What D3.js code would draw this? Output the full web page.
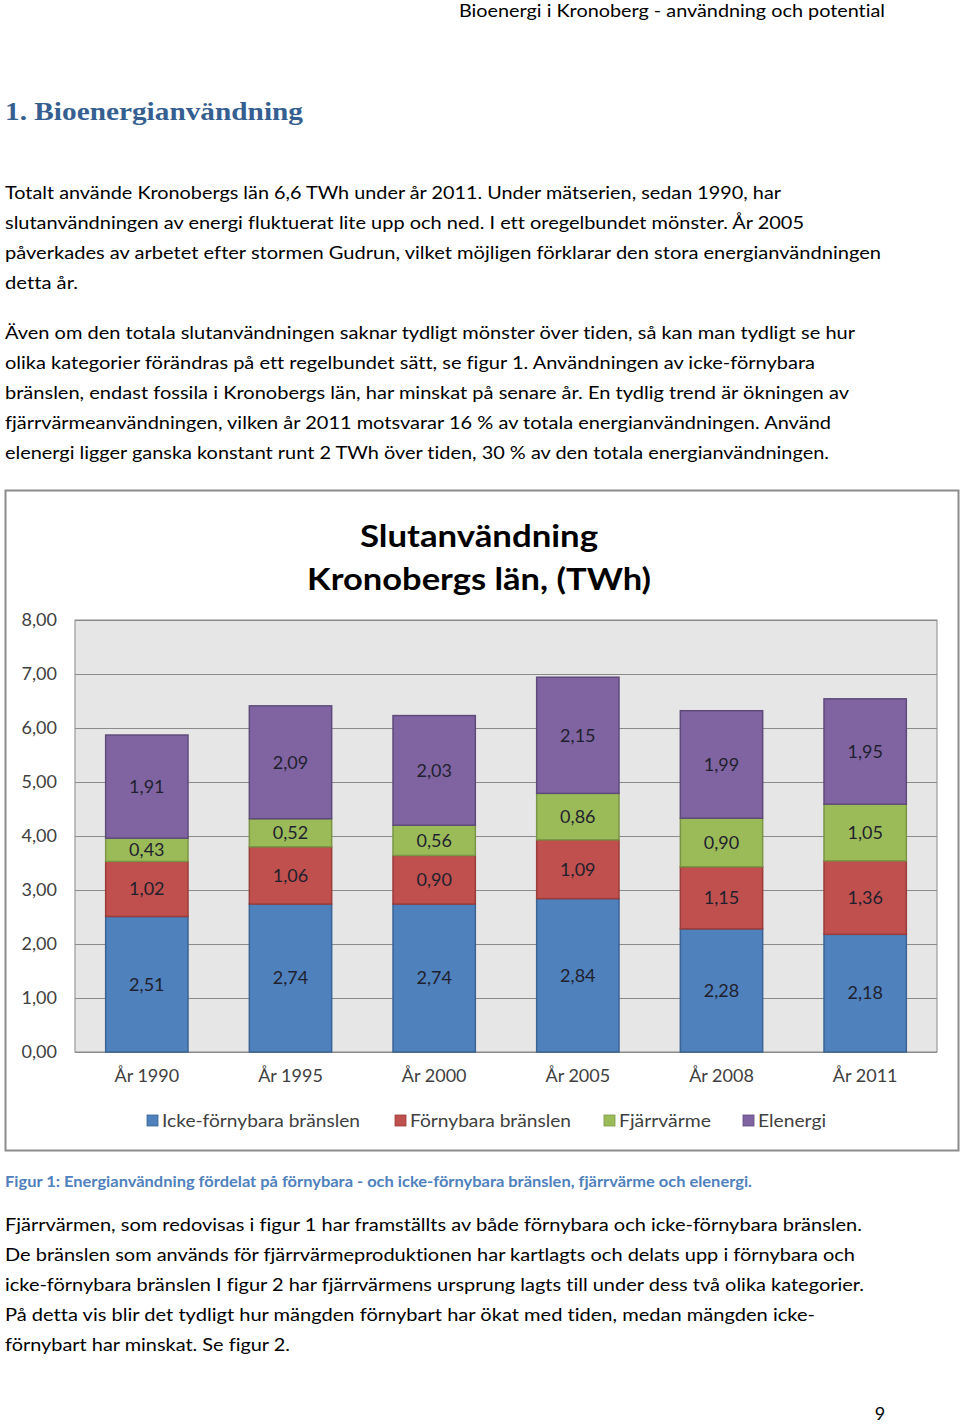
<!DOCTYPE html>
<html><head><meta charset="utf-8">
<script src="https://cdn.jsdelivr.net/npm/d3@7"></script>
<style>
html,body{margin:0;padding:0;background:#fff;}
svg{display:block;}
text{font-family:Lato,"Open Sans",sans-serif;font-variant-ligatures:none;font-feature-settings:"liga" 0;}
</style></head>
<body>
<script>
// ---- data ----
const categories = ["År 1990","År 1995","År 2000","År 2005","År 2008","År 2011"];
const seriesNames = ["Icke-förnybara bränslen","Förnybara bränslen","Fjärrvärme","Elenergi"];
const ickeFornybara = [2.51, 2.74, 2.74, 2.84, 2.28, 2.18];
const fornybara = [1.02, 1.06, 0.90, 1.09, 1.15, 1.36];
const fjarrvarme = [0.43, 0.52, 0.56, 0.86, 0.90, 1.05];
const elenergi = [1.91, 2.09, 2.03, 2.15, 1.99, 1.95];
const yTicks = [0,1,2,3,4,5,6,7,8];
const titleLines = ["Slutanvändning","Kronobergs län, (TWh)"];

const headerText = "Bioenergi i Kronoberg - användning och potential";
const headingText = "1. Bioenergianvändning";
const para1 = [
 "Totalt använde Kronobergs län 6,6 TWh under år 2011. Under mätserien, sedan 1990, har",
 "slutanvändningen av energi fluktuerat lite upp och ned. I ett oregelbundet mönster. År 2005",
 "påverkades av arbetet efter stormen Gudrun, vilket möjligen förklarar den stora energianvändningen",
 "detta år."];
const para2 = [
 "Även om den totala slutanvändningen saknar tydligt mönster över tiden, så kan man tydligt se hur",
 "olika kategorier förändras på ett regelbundet sätt, se figur 1. Användningen av icke-förnybara",
 "bränslen, endast fossila i Kronobergs län, har minskat på senare år. En tydlig trend är ökningen av",
 "fjärrvärmeanvändningen, vilken år 2011 motsvarar 16 % av totala energianvändningen. Använd",
 "elenergi ligger ganska konstant runt 2 TWh över tiden, 30 % av den totala energianvändningen."];
const captionText = "Figur 1: Energianvändning fördelat på förnybara - och icke-förnybara bränslen, fjärrvärme och elenergi.";
const para3 = [
 "Fjärrvärmen, som redovisas i figur 1 har framställts av både förnybara och icke-förnybara bränslen.",
 "De bränslen som används för fjärrvärmeproduktionen har kartlagts och delats upp i förnybara och",
 "icke-förnybara bränslen I figur 2 har fjärrvärmens ursprung lagts till under dess två olika kategorier.",
 "På detta vis blir det tydligt hur mängden förnybart har ökat med tiden, medan mängden icke-",
 "förnybart har minskat. Se figur 2."];
const pageNumber = "9";

// ---- drawing ----
const W = 960, H = 1426;
const svg = d3.select("body").append("svg").attr("width", W).attr("height", H);
svg.append("rect").attr("width", W).attr("height", H).attr("fill", "#fff");

function fitText(sel, target){
  sel.each(function(){
    const w = this.getComputedTextLength();
    if (Math.abs(w - target) > 2) {
      d3.select(this).attr("textLength", target).attr("lengthAdjust", "spacingAndGlyphs");
    }
  });
}

// header
svg.append("text").attr("x", 885).attr("y", 17).attr("text-anchor", "end")
  .attr("font-size", 17).attr("fill", "#000").text(headerText)
  .call(s => fitText(s, 426));

// heading
svg.append("text").attr("x", 5).attr("y", 120)
  .style("font-family", "'Liberation Serif','DejaVu Serif',serif")
  .attr("font-weight", "bold").attr("font-size", 26).attr("fill", "#365F91")
  .text(headingText).call(s => fitText(s, 298));

function paragraph(lines, y0, widths){
  lines.forEach((ln, i) => {
    const t = svg.append("text").attr("x", 5).attr("y", y0 + i*30).attr("dy", "0.35em")
      .attr("font-size", 18).attr("fill", "#000").text(ln);
    fitText(t, widths[i]);
  });
}
paragraph(para1, 193, [776, 799, 876, 73]);
paragraph(para2, 333, [850, 810, 844, 826, 824]);

// chart frame
svg.append("rect").attr("x", 5.5).attr("y", 490.5).attr("width", 953).attr("height", 660)
  .attr("fill", "#fff").attr("stroke", "#8c8c8c").attr("stroke-width", 2);

// title
titleLines.forEach((t, i) => {
  svg.append("text").attr("x", 479).attr("y", 536 + i*43).attr("dy", "0.35em")
    .attr("text-anchor", "middle").attr("font-weight", "bold").attr("font-size", 31)
    .attr("fill", "#000").text(t).call(s => fitText(s, i === 0 ? 238 : 344));
});

const plot = {left: 75, right: 937, top: 620, bottom: 1052};
const x = d3.scaleBand().domain(categories).range([plot.left, plot.right])
  .paddingInner(0.42).paddingOuter(0.21);
const y = d3.scaleLinear().domain([0, 8]).range([plot.bottom, plot.top]);

// plot area
svg.append("rect").attr("x", plot.left).attr("y", plot.top)
  .attr("width", plot.right - plot.left).attr("height", plot.bottom - plot.top)
  .attr("fill", "#e6e6e6").attr("stroke", "#8a8a8a").attr("stroke-width", 1);

const fmt = v => d3.format(".2f")(v).replace(".", ",");

// gridlines
svg.append("g").selectAll("line").data(yTicks).join("line")
  .attr("x1", plot.left).attr("x2", plot.right)
  .attr("y1", d => Math.round(y(d)) + 0.5).attr("y2", d => Math.round(y(d)) + 0.5)
  .attr("stroke", "#8a8a8a").attr("stroke-width", 1);

// y axis labels
const yAxis = d3.axisLeft(y).tickValues(yTicks).tickFormat(fmt).tickSize(0).tickPadding(18);
const gy = svg.append("g").attr("transform", `translate(${plot.left},0)`).call(yAxis);
gy.select(".domain").remove();
gy.selectAll("text").attr("font-size", 18).attr("fill", "#404040")
  .style("font-family", "Lato,'Open Sans',sans-serif");

// x axis labels
const xAxis = d3.axisBottom(x).tickSize(0).tickPadding(17);
const gx = svg.append("g").attr("transform", `translate(0,${plot.bottom})`).call(xAxis);
gx.select(".domain").remove();
gx.selectAll("text").attr("font-size", 18).attr("fill", "#404040")
  .style("font-family", "Lato,'Open Sans',sans-serif");

// stacked bars
const seriesValues = [ickeFornybara, fornybara, fjarrvarme, elenergi];
const colors = ["#4F81BD", "#C0504D", "#9BBB59", "#8064A2"];
const strokes = ["#3A6494", "#9A3D3A", "#7A9645", "#5F4A7C"];
const rows = categories.map((c, i) => {
  const r = {cat: c};
  seriesNames.forEach((s, k) => r[s] = seriesValues[k][i]);
  return r;
});
const stacked = d3.stack().keys(seriesNames)(rows);

stacked.forEach((layer, k) => {
  const g = svg.append("g");
  g.selectAll("rect").data(layer).join("rect")
    .attr("x", d => x(d.data.cat) + 0.5)
    .attr("y", d => y(d[1]))
    .attr("width", x.bandwidth() - 1)
    .attr("height", d => y(d[0]) - y(d[1]))
    .attr("fill", colors[k]).attr("stroke", strokes[k]).attr("stroke-width", 1.5);
});
stacked.forEach((layer, k) => {
  svg.append("g").selectAll("text").data(layer).join("text")
    .attr("x", d => x(d.data.cat) + x.bandwidth()/2)
    .attr("y", d => (y(d[0]) + y(d[1]))/2).attr("dy", "0.35em")
    .attr("text-anchor", "middle").attr("font-size", 18).attr("fill", "#1f1f2e")
    .text(d => fmt(d.data[layer.key]));
});

// legend
const legendStarts = [147, 395, 604, 743];
const legendWidths = [198, 161, 92, 68];
seriesNames.forEach((s, k) => {
  const lx = legendStarts[k];
  svg.append("rect").attr("x", lx).attr("y", 1115).attr("width", 11).attr("height", 11)
    .attr("fill", colors[k]).attr("stroke", strokes[k]).attr("stroke-width", 0.8);
  svg.append("text").attr("x", lx + 15).attr("y", 1121).attr("dy", "0.35em")
    .attr("font-size", 18).attr("fill", "#404040").text(s)
    .call(t => fitText(t, legendWidths[k]));
});

// caption
svg.append("text").attr("x", 5).attr("y", 1182).attr("dy", "0.35em")
  .attr("font-size", 14.5).attr("font-weight", "bold").attr("fill", "#4F81BD")
  .text(captionText).call(s => fitText(s, 747));

paragraph(para3, 1225, [857, 850, 859, 810, 285]);

// page number
svg.append("text").attr("x", 880).attr("y", 1414).attr("dy", "0.35em")
  .attr("text-anchor", "middle").attr("font-size", 18).attr("fill", "#000").text(pageNumber);
</script>
</body></html>
